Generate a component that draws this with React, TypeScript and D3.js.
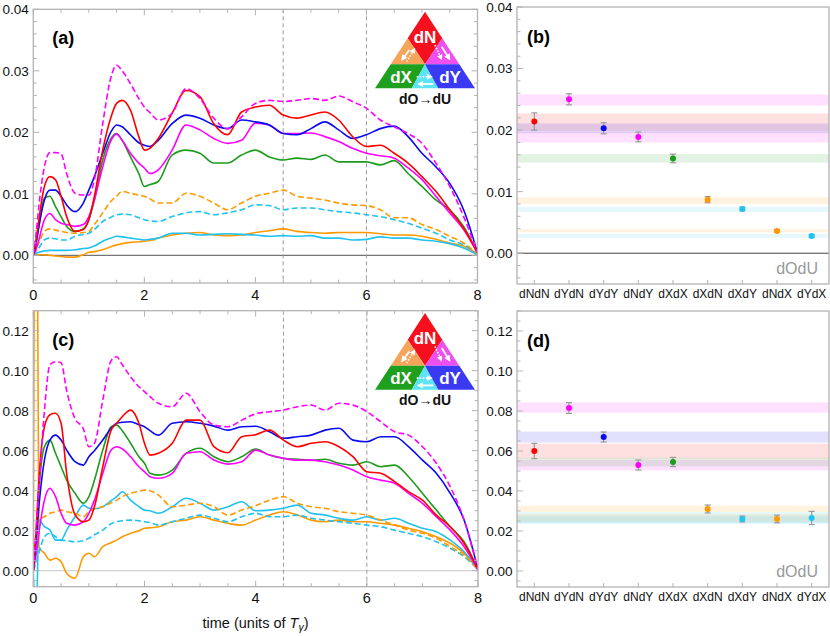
import React from 'react';
import * as d3 from 'd3';

// time grid (units of T_gamma)
const T = [
  0, 0.05, 0.1, 0.2, 0.3, 0.4, 0.5, 0.6,
  0.75, 0.9, 1.0, 1.1, 1.25, 1.4, 1.5, 1.6, 1.75, 1.9, 2.0, 2.1, 2.25,
  2.5, 2.75, 3.0, 3.25, 3.5, 3.75, 4.0, 4.25, 4.5, 4.75, 5.0,
  5.25, 5.5, 5.75, 6.0, 6.25, 6.5, 6.75, 7.0, 7.25, 7.5, 7.75, 8.0,
];

// ---- panel (a) time series
const aDYdN = [
  0, 0.0035, 0.008, 0.0144, 0.0167, 0.0167, 0.0165, 0.0133,
  0.0101, 0.0098, 0.0098, 0.0123, 0.0214, 0.029, 0.0309, 0.030, 0.0279, 0.0255, 0.0241, 0.0232, 0.022,
  0.0231, 0.0271, 0.0255, 0.0223, 0.0206, 0.0225, 0.0247, 0.0252, 0.025, 0.0252, 0.0255,
  0.0252, 0.0259, 0.025, 0.0239, 0.022, 0.0209, 0.0198, 0.0182, 0.015, 0.0112, 0.0063, 0.0004,
];
const aDNdN = [
  0, 0.0025, 0.0058, 0.0112, 0.0128, 0.0123, 0.0096, 0.0063,
  0.0039, 0.0042, 0.0058, 0.0096, 0.0171, 0.0225, 0.0247, 0.0252, 0.0236, 0.0193, 0.0171, 0.0174, 0.019,
  0.0231, 0.0268, 0.0258, 0.0214, 0.0196, 0.0233, 0.0241, 0.0244, 0.0228, 0.0223, 0.0228,
  0.0233, 0.022, 0.0193, 0.0177, 0.0179, 0.0166, 0.015, 0.0128, 0.0104, 0.0074, 0.0044, 0.0004,
];
const aDYdY = [
  0, 0.002, 0.0047, 0.009, 0.0106, 0.0106, 0.0096, 0.0082,
  0.0071, 0.0085, 0.0106, 0.0128, 0.0166, 0.0201, 0.0212, 0.0209, 0.0196, 0.0183, 0.0179, 0.0177, 0.0187,
  0.0214, 0.0228, 0.0223, 0.0212, 0.0206, 0.022, 0.0217, 0.0212, 0.0198, 0.0196, 0.0206,
  0.0217, 0.0204, 0.019, 0.0196, 0.0206, 0.021, 0.0193, 0.0166, 0.0144, 0.0117, 0.0074, 0.0004,
];
const aDNdY = [
  0, 0.001, 0.0025, 0.0058, 0.0068, 0.0058, 0.0052, 0.005,
  0.0047, 0.005, 0.0063, 0.009, 0.0144, 0.0187, 0.0197, 0.0187, 0.0166, 0.015, 0.0142, 0.0133, 0.0139,
  0.0171, 0.0212, 0.0204, 0.019, 0.0182, 0.0187, 0.0215, 0.0212, 0.0198, 0.0198, 0.0199,
  0.0193, 0.0185, 0.0174, 0.0166, 0.0162, 0.0158, 0.0142, 0.0123, 0.0096, 0.0069, 0.0042, 0.0004,
];
const aDXdX = [
  0, 0.002, 0.0047, 0.0093, 0.0096, 0.0079, 0.0063, 0.0047,
  0.0039, 0.0043, 0.0058, 0.009, 0.0155, 0.019, 0.0198, 0.0187, 0.016, 0.0133, 0.0112, 0.0115, 0.012,
  0.0163, 0.0171, 0.0166, 0.015, 0.015, 0.0163, 0.0171, 0.016, 0.0155, 0.0158, 0.0156,
  0.0163, 0.0152, 0.0152, 0.0152, 0.0147, 0.0154, 0.0133, 0.0112, 0.009, 0.0074, 0.0047, 0.0004,
];
const aDXdN = [
  0, 0.001, 0.002, 0.0039, 0.0043, 0.0041, 0.0039, 0.0037,
  0.0036, 0.0037, 0.0039, 0.005, 0.0069, 0.0088, 0.0096, 0.0104, 0.0101, 0.0098, 0.0096, 0.0092, 0.0085,
  0.0085, 0.0101, 0.0096, 0.0085, 0.0074, 0.0085, 0.0096, 0.0101, 0.0106, 0.0096, 0.0093,
  0.009, 0.0085, 0.0082, 0.0081, 0.0074, 0.0061, 0.0061, 0.005, 0.0042, 0.0031, 0.002, 0.0002,
];
const aDXdY = [
  0, 0.0006, 0.0012, 0.0025, 0.0028, 0.0027, 0.0025, 0.0025,
  0.0031, 0.0034, 0.0036, 0.0042, 0.0055, 0.0062, 0.0066, 0.0067, 0.0066, 0.0061, 0.0058, 0.0056, 0.0055,
  0.0063, 0.0069, 0.0071, 0.0066, 0.0069, 0.0074, 0.0082, 0.0081, 0.0074, 0.0077, 0.0077,
  0.0074, 0.0071, 0.0069, 0.0066, 0.0063, 0.0058, 0.0052, 0.0044, 0.0036, 0.0025, 0.0017, 0.0002,
];
const aDNdX = [
  0, 0.0001, 0.0001, 0.0001, 0, -0.0001, -0.0002, -0.0003,
  -0.0003, 0.0001, 0.0005, 0.0006, 0.0009, 0.0014, 0.0017, 0.0019, 0.0021, 0.0022, 0.0023, 0.0024, 0.0028,
  0.0033, 0.0036, 0.0037, 0.0033, 0.0032, 0.0033, 0.0037, 0.004, 0.0043, 0.0039, 0.0037,
  0.0036, 0.0037, 0.0037, 0.0037, 0.0035, 0.0033, 0.0033, 0.0031, 0.0026, 0.002, 0.0015, 0.0002,
];
const aDYdX = [
  0, 0.0003, 0.0005, 0.0007, 0.0008, 0.0008, 0.0008, 0.0008,
  0.0009, 0.0011, 0.0012, 0.0015, 0.0023, 0.0028, 0.0031, 0.003, 0.0028, 0.0026, 0.0025, 0.0026, 0.0028,
  0.0036, 0.0036, 0.0033, 0.0034, 0.0035, 0.0034, 0.0033, 0.0031, 0.0032, 0.0031, 0.0032,
  0.0028, 0.0028, 0.0025, 0.0026, 0.003, 0.0028, 0.0028, 0.0025, 0.0023, 0.0019, 0.0012, 0.0001,
];

// ---- panel (c) time series
const cDYdN = [
  0, 0.02, 0.04, 0.08, 0.103, 0.1045, 0.104, 0.09,
  0.076, 0.071, 0.062, 0.0637, 0.0853, 0.105, 0.107, 0.103, 0.097, 0.092, 0.0895, 0.087, 0.0837,
  0.082, 0.0887, 0.0795, 0.0728, 0.072, 0.0753, 0.0785, 0.0795, 0.0803, 0.082, 0.0828,
  0.0803, 0.0837, 0.0828, 0.0795, 0.0745, 0.0695, 0.0678, 0.062, 0.0537, 0.042, 0.0253, 0.0005,
];
const cDNdN = [
  0, 0.02, 0.045, 0.072, 0.078, 0.0787, 0.0737, 0.0487,
  0.028, 0.0245, 0.0253, 0.032, 0.052, 0.0703, 0.0737, 0.077, 0.0803, 0.0737, 0.0637, 0.0578, 0.0587,
  0.0637, 0.0753, 0.0753, 0.062, 0.059, 0.067, 0.068, 0.0703, 0.0653, 0.062, 0.0637,
  0.0645, 0.062, 0.057, 0.0495, 0.0487, 0.0445, 0.0395, 0.0353, 0.0278, 0.022, 0.0137, 0.0005,
];
const cDYdY = [
  0, 0.015, 0.032, 0.0553, 0.0653, 0.0678, 0.0653, 0.0603,
  0.0545, 0.0528, 0.057, 0.06, 0.0653, 0.0712, 0.0737, 0.0742, 0.0745, 0.073, 0.072, 0.07, 0.0678,
  0.0737, 0.0745, 0.0737, 0.0723, 0.0703, 0.072, 0.0722, 0.0695, 0.0662, 0.067, 0.0678,
  0.0703, 0.0712, 0.0653, 0.0645, 0.067, 0.067, 0.062, 0.0553, 0.0487, 0.0387, 0.0253, 0.0005,
];
const cDNdY = [
  0, 0.008, 0.0187, 0.0353, 0.0412, 0.037, 0.0287, 0.0237,
  0.0228, 0.0245, 0.0287, 0.0353, 0.0487, 0.0603, 0.062, 0.061, 0.057, 0.052, 0.0495, 0.047, 0.0462,
  0.0487, 0.0587, 0.0595, 0.0553, 0.0533, 0.0545, 0.0603, 0.0578, 0.0562, 0.0553, 0.0553,
  0.0545, 0.0528, 0.0503, 0.047, 0.0453, 0.0437, 0.0387, 0.0337, 0.027, 0.0203, 0.012, 0.0005,
];
const cDXdX = [
  0, 0.018, 0.0403, 0.062, 0.0653, 0.0587, 0.052, 0.0453,
  0.0387, 0.0337, 0.037, 0.0453, 0.0603, 0.072, 0.0728, 0.07, 0.0637, 0.057, 0.0537, 0.0487, 0.0478,
  0.0503, 0.0587, 0.0612, 0.057, 0.0545, 0.057, 0.0608, 0.0578, 0.0562, 0.0557, 0.0553,
  0.0557, 0.0537, 0.0528, 0.0545, 0.052, 0.0528, 0.047, 0.0387, 0.0303, 0.022, 0.0145, 0.0005,
];
const cDXdN = [
  0, 0.013, 0.0253, 0.027, 0.0287, 0.0295, 0.0303, 0.0295,
  0.0287, 0.027, 0.0295, 0.031, 0.032, 0.034, 0.0353, 0.037, 0.0387, 0.0397, 0.0403, 0.04, 0.0378,
  0.032, 0.0328, 0.0337, 0.032, 0.0278, 0.0303, 0.0325, 0.0353, 0.037, 0.0337, 0.032,
  0.0312, 0.0295, 0.0287, 0.0278, 0.0253, 0.0228, 0.0203, 0.0187, 0.0162, 0.012, 0.0078, 0.0005,
];
const cDXdY = [
  0, 0.004, 0.0087, 0.017, 0.0187, 0.017, 0.0153, 0.015,
  0.0145, 0.015, 0.0162, 0.018, 0.0203, 0.0235, 0.0245, 0.025, 0.0253, 0.025, 0.0245, 0.024, 0.0228,
  0.0245, 0.0262, 0.0278, 0.0262, 0.0245, 0.027, 0.0287, 0.027, 0.027, 0.0278, 0.0262,
  0.0253, 0.0245, 0.0237, 0.0228, 0.022, 0.0203, 0.0187, 0.017, 0.0145, 0.0112, 0.007, 0.0005,
];
const cDNdX = [
  0, 0.3, 0.012, 0.0087, 0.0053, 0.0062, 0.0045, -0.0013,
  -0.0038, 0.007, 0.0087, 0.007, 0.012, 0.014, 0.0153, 0.017, 0.0187, 0.02, 0.0212, 0.0215, 0.022,
  0.0245, 0.0253, 0.027, 0.0253, 0.0237, 0.0228, 0.0253, 0.0278, 0.0295, 0.0278, 0.0253,
  0.0245, 0.0253, 0.0245, 0.0245, 0.0237, 0.0228, 0.0212, 0.0195, 0.017, 0.0137, 0.0087, 0.0005,
];
const cDYdX = [
  0, -0.03, 0.0253, 0.022, 0.0203, 0.0153, 0.0153, 0.0203,
  0.027, 0.0328, 0.0312, 0.031, 0.032, 0.035, 0.037, 0.0395, 0.0353, 0.032, 0.0303, 0.03, 0.0287,
  0.032, 0.0362, 0.0337, 0.0303, 0.032, 0.0345, 0.03, 0.0303, 0.0312, 0.0328, 0.0287,
  0.0278, 0.0262, 0.0253, 0.027, 0.0253, 0.0262, 0.0237, 0.0212, 0.0195, 0.0153, 0.0095, 0.0005,
];

// ---- panels (b), (d): time averages
const categories = ['dNdN', 'dYdN', 'dYdY', 'dNdY', 'dXdX', 'dXdN', 'dXdY', 'dNdX', 'dYdX'];
const bMean = [0.0214, 0.025, 0.0203, 0.0189, 0.0154, 0.0087, 0.0072, 0.0036, 0.0028];
const bErr = [0.0014, 0.0009, 0.0009, 0.0008, 0.0007, 0.0005, 0.0003, 0.0002, 0.0002];
const bBandLo = [0.0198, 0.024, 0.0195, 0.018, 0.0147, 0.008, 0.0067, 0.0034, 0.0025];
const bBandHi = [0.0227, 0.0258, 0.0211, 0.0197, 0.0161, 0.0091, 0.0075, 0.0039, 0.0031];
const dMean = [0.06, 0.0815, 0.067, 0.053, 0.0545, 0.031, 0.026, 0.026, 0.0265];
const dErr = [0.0038, 0.0027, 0.0025, 0.0025, 0.0023, 0.002, 0.0015, 0.0019, 0.0033];
const dBandLo = [0.0562, 0.0792, 0.0642, 0.0503, 0.0523, 0.0295, 0.024, 0.0245, 0.0235];
const dBandHi = [0.0637, 0.0843, 0.0697, 0.0556, 0.0566, 0.0327, 0.0275, 0.0285, 0.0295];

const aTicks = [0, 0.01, 0.02, 0.03, 0.04];
const cTicks = [0, 0.02, 0.04, 0.06, 0.08, 0.1, 0.12];
const xTicks = [0, 2, 4, 6, 8];
const markerTimes = [4.5, 6];

const COLORS: Record<string, string> = {
  dNdN: '#ff0000',
  dYdN: '#ff00ff',
  dYdY: '#0a0af0',
  dNdY: '#ff00ff',
  dXdX: '#1c9c1c',
  dXdN: '#ff9900',
  dXdY: '#20c2f0',
  dNdX: '#ff9900',
  dYdX: '#20c2f0',
};
const DASHED: Record<string, boolean> = { dYdN: true, dXdN: true, dXdY: true };
const drawOrder = ['dNdX', 'dYdX', 'dXdY', 'dXdN', 'dXdX', 'dNdY', 'dYdY', 'dNdN', 'dYdN'];

const seriesA: Record<string, number[]> = {
  dYdN: aDYdN, dNdN: aDNdN, dYdY: aDYdY, dNdY: aDNdY, dXdX: aDXdX,
  dXdN: aDXdN, dXdY: aDXdY, dNdX: aDNdX, dYdX: aDYdX,
};
const seriesC: Record<string, number[]> = {
  dYdN: cDYdN, dNdN: cDNdN, dYdY: cDYdY, dNdY: cDNdY, dXdX: cDXdX,
  dXdN: cDXdN, dXdY: cDXdY, dNdX: cDNdX, dYdX: cDYdX,
};

const FONT = '"Liberation Sans", Arial, sans-serif';
const FRAME = '#b3b3b3';

type Box = { x0: number; x1: number; y0: number; y1: number };

// little triangle legend (dN / dX / dY) in the corner of the time panels
const Triangle = ({ cx, top }: { cx: number; top: number }) => {
  const P = {
    A: [0, 0], L1: [-17.3, 26.6], R1: [17.3, 26.6], C: [0, 52.6],
    L2: [-34.3, 52.6], R2: [34.3, 52.6], BL: [-50, 76.6], BR: [50, 76.6],
    B1: [-13.3, 76.6], B2: [13.3, 76.6],
  } as Record<string, number[]>;
  const poly = (keys: string[]) => keys.map(k => P[k].join(',')).join(' ');
  const arrow = (x1: number, y1: number, x2: number, y2: number, dotted: boolean, k: string) => (
    <line key={k} x1={x1} y1={y1} x2={x2} y2={y2} stroke="#fff" strokeWidth={dotted ? 1.6 : 1.8}
      strokeDasharray={dotted ? '1.5,1.5' : undefined} markerEnd="url(#whiteHead)" />
  );
  return (
    <g transform={`translate(${cx},${top})`}>
      <polygon points={poly(['A', 'L1', 'C', 'R1'])} fill="#f5101e" />
      <polygon points={poly(['L1', 'L2', 'C'])} fill="#f5a45a" />
      <polygon points={poly(['R1', 'R2', 'C'])} fill="#f04ff0" />
      <polygon points={poly(['L2', 'BL', 'B1', 'C'])} fill="#1ea01e" />
      <polygon points={poly(['C', 'B1', 'B2'])} fill="#5ae4f4" />
      <polygon points={poly(['C', 'B2', 'BR', 'R2'])} fill="#3a3af2" />
      {arrow(-15.7, 38.3, -22.3, 47.3, false, 'o1')}
      {arrow(-18.3, 50, -11, 38, true, 'o2')}
      {arrow(10, 33.3, 16, 46.5, true, 'm1')}
      {arrow(16.7, 35, 24, 46.5, false, 'm2')}
      {arrow(-8.3, 65, 5.5, 65, true, 'c1')}
      {arrow(8.3, 72.3, -5.5, 72.3, false, 'c2')}
      <text x={0} y={31} textAnchor="middle" fontSize={17} fontWeight="bold" fill="#fff" fontFamily={FONT}>dN</text>
      <text x={-24} y={71} textAnchor="middle" fontSize={17} fontWeight="bold" fill="#fff" fontFamily={FONT}>dX</text>
      <text x={25} y={71} textAnchor="middle" fontSize={17} fontWeight="bold" fill="#fff" fontFamily={FONT}>dY</text>
      <text x={0} y={92} textAnchor="middle" fontSize={14} fontWeight="bold" fill="#111" fontFamily={FONT}>dO→dU</text>
    </g>
  );
};

const TimePanel = ({
  box, yDomain, yTicks, minorStep, series, label, zeroColor, id, tickLabelDy,
}: {
  box: Box; yDomain: [number, number]; yTicks: number[]; minorStep: number;
  series: Record<string, number[]>; label: string; zeroColor: string; id: string; tickLabelDy: number;
}) => {
  const x = d3.scaleLinear().domain([0, 8]).range([box.x0, box.x1]);
  const y = d3.scaleLinear().domain(yDomain).range([box.y1, box.y0]);
  const line = d3.line<number>()
    .x((_, i) => x(T[i]))
    .y(d => y(d))
    .curve(d3.curveMonotoneX);
  const fmt = d3.format('.2f');
  const xMinor = d3.range(0, 8.001, 0.5);
  const yMinor = d3.range(Math.ceil(yDomain[0] / minorStep) * minorStep, yDomain[1] + 1e-9, minorStep);
  return (
    <g>
      <defs>
        <clipPath id={id}>
          <rect x={box.x0} y={box.y0} width={box.x1 - box.x0} height={box.y1 - box.y0} />
        </clipPath>
      </defs>
      {/* zero line and dashed time markers */}
      <line x1={box.x0} x2={box.x1} y1={y(0)} y2={y(0)} stroke={zeroColor} strokeWidth={1} />
      {markerTimes.map(t => (
        <line key={t} x1={x(t)} x2={x(t)} y1={box.y0} y2={box.y1} stroke="#999" strokeWidth={1} strokeDasharray="4,3" />
      ))}
      <g clipPath={`url(#${id})`}>
        {drawOrder.map(k => (
          <path key={k} d={line(series[k]) || ''} fill="none" stroke={COLORS[k]} strokeWidth={1.6}
            strokeDasharray={DASHED[k] ? '6,3' : undefined} strokeLinejoin="round" />
        ))}
      </g>
      {/* frame */}
      <rect x={box.x0} y={box.y0} width={box.x1 - box.x0} height={box.y1 - box.y0} fill="none" stroke={FRAME} strokeWidth={1.3} />
      {xMinor.map(t => {
        const major = t % 2 === 0;
        const len = major ? 6 : 3.5;
        return (
          <g key={`xt${t}`} stroke={FRAME}>
            <line x1={x(t)} x2={x(t)} y1={box.y1} y2={box.y1 - len} />
            <line x1={x(t)} x2={x(t)} y1={box.y0} y2={box.y0 + len} />
          </g>
        );
      })}
      {yMinor.map(v => {
        const major = yTicks.some(t => Math.abs(t - v) < 1e-9);
        const len = major ? 6 : 3.5;
        return (
          <g key={`yt${v}`} stroke={FRAME}>
            <line x1={box.x0} x2={box.x0 + len} y1={y(v)} y2={y(v)} />
            <line x1={box.x1} x2={box.x1 - len} y1={y(v)} y2={y(v)} />
          </g>
        );
      })}
      {yTicks.map(v => (
        <text key={`yl${v}`} x={box.x0 - 4.5} y={y(v)} dy="0.36em" textAnchor="end" fontSize={13.5} fontFamily={FONT} fill="#111">
          {fmt(v)}
        </text>
      ))}
      {xTicks.map(t => (
        <text key={`xl${t}`} x={x(t)} y={box.y1 + tickLabelDy} textAnchor="middle" fontSize={14.5} fontFamily={FONT} fill="#111">
          {t}
        </text>
      ))}
      <text x={box.x0 + 19} y={box.y0 + 35} fontSize={18} fontWeight="bold" fontFamily={FONT} fill="#000">{label}</text>
      <Triangle cx={425} top={box.y0 + 2.4} />
    </g>
  );
};

const AvgPanel = ({
  box, yDomain, yTicks, minorStep, mean, err, bandLo, bandHi, label, showZero,
}: {
  box: Box; yDomain: [number, number]; yTicks: number[]; minorStep: number;
  mean: number[]; err: number[]; bandLo: number[]; bandHi: number[]; label: string; showZero: boolean;
}) => {
  const x = d3.scalePoint<string>().domain(categories).range([box.x0, box.x1]).padding(0.5);
  const y = d3.scaleLinear().domain(yDomain).range([box.y1, box.y0]);
  const fmt = d3.format('.2f');
  const yMinor = d3.range(Math.ceil(yDomain[0] / minorStep) * minorStep, yDomain[1] + 1e-9, minorStep);
  return (
    <g>
      {categories.map((c, i) => (
        <rect key={`band${c}`} x={box.x0} width={box.x1 - box.x0} y={y(bandHi[i])} height={y(bandLo[i]) - y(bandHi[i])}
          fill={COLORS[c]} fillOpacity={0.12} />
      ))}
      {showZero && <line x1={box.x0} x2={box.x1} y1={y(0)} y2={y(0)} stroke="#444" strokeWidth={1} />}
      {categories.map((c, i) => (
        <g key={`pt${c}`}>
          <g stroke="#9a9a9a" strokeWidth={1.2}>
            <line x1={x(c)} x2={x(c)} y1={y(mean[i] - err[i])} y2={y(mean[i] + err[i])} />
            <line x1={(x(c) as number) - 3} x2={(x(c) as number) + 3} y1={y(mean[i] - err[i])} y2={y(mean[i] - err[i])} />
            <line x1={(x(c) as number) - 3} x2={(x(c) as number) + 3} y1={y(mean[i] + err[i])} y2={y(mean[i] + err[i])} />
          </g>
          <circle cx={x(c)} cy={y(mean[i])} r={3} fill={COLORS[c]} />
        </g>
      ))}
      <rect x={box.x0} y={box.y0} width={box.x1 - box.x0} height={box.y1 - box.y0} fill="none" stroke={FRAME} strokeWidth={1.3} />
      {yMinor.map(v => {
        const major = yTicks.some(t => Math.abs(t - v) < 1e-9);
        return (
          <line key={`yt${v}`} x1={box.x0} x2={box.x0 + (major ? 6 : 3.5)} y1={y(v)} y2={y(v)} stroke={FRAME} />
        );
      })}
      {categories.map(c => (
        <line key={`xt${c}`} x1={x(c)} x2={x(c)} y1={box.y1} y2={box.y1 - 4} stroke={FRAME} />
      ))}
      {yTicks.map(v => (
        <text key={`yl${v}`} x={box.x0 - 4.5} y={y(v)} dy="0.36em" textAnchor="end" fontSize={13.5} fontFamily={FONT} fill="#111">
          {fmt(v)}
        </text>
      ))}
      {categories.map(c => (
        <text key={`xl${c}`} x={x(c)} y={box.y1 + 13.5} textAnchor="middle" fontSize={12} fontFamily={FONT} fill="#111">
          {c}
        </text>
      ))}
      <text x={box.x0 + 10} y={box.y0 + 36} fontSize={18} fontWeight="bold" fontFamily={FONT} fill="#000">{label}</text>
      <text x={box.x1 - 11} y={box.y1 - 10.5} textAnchor="end" fontSize={16} fontFamily={FONT} fill="#999">dOdU</text>
    </g>
  );
};

export default function App() {
  const boxA: Box = { x0: 33.3, x1: 477.5, y0: 9.3, y1: 283 };
  const boxC: Box = { x0: 33.3, x1: 478, y0: 310.7, y1: 586.7 };
  const boxB: Box = { x0: 517, x1: 829, y0: 7, y1: 284 };
  const boxD: Box = { x0: 517, x1: 829, y0: 311, y1: 587 };
  return (
    <svg width={830} height={636} viewBox="0 0 830 636"
      style={{ position: 'absolute', left: 0, top: 0, background: '#fff' }}>
      <defs>
        <marker id="whiteHead" viewBox="0 0 10 10" refX="6" refY="5" markerWidth="3.6" markerHeight="3.6" orient="auto-start-reverse">
          <path d="M0,0 L10,5 L0,10 z" fill="#fff" />
        </marker>
      </defs>
      <rect x={0} y={0} width={830} height={636} fill="#fff" />
      <TimePanel box={boxA} yDomain={[-0.0045, 0.04]} yTicks={aTicks} minorStep={0.002} series={seriesA}
        label="(a)" zeroColor="#555" id="clipA" tickLabelDy={17} />
      <TimePanel box={boxC} yDomain={[-0.008, 0.13]} yTicks={cTicks} minorStep={0.005} series={seriesC}
        label="(c)" zeroColor="#c8c8c8" id="clipC" tickLabelDy={16} />
      <AvgPanel box={boxB} yDomain={[-0.005, 0.04]} yTicks={aTicks} minorStep={0.002}
        mean={bMean} err={bErr} bandLo={bBandLo} bandHi={bBandHi} label="(b)" showZero />
      <AvgPanel box={boxD} yDomain={[-0.008, 0.13]} yTicks={cTicks} minorStep={0.005}
        mean={dMean} err={dErr} bandLo={dBandLo} bandHi={dBandHi} label="(d)" showZero={false} />
      <text x={255.5} y={627.5} textAnchor="middle" fontSize={14.5} fontFamily={FONT} fill="#111">
        time (units of <tspan fontStyle="italic">T</tspan>
        <tspan fontStyle="italic" fontSize={10.5} dy={3.5}>γ</tspan>
        <tspan dy={-3.5}>)</tspan>
      </text>
    </svg>
  );
}
